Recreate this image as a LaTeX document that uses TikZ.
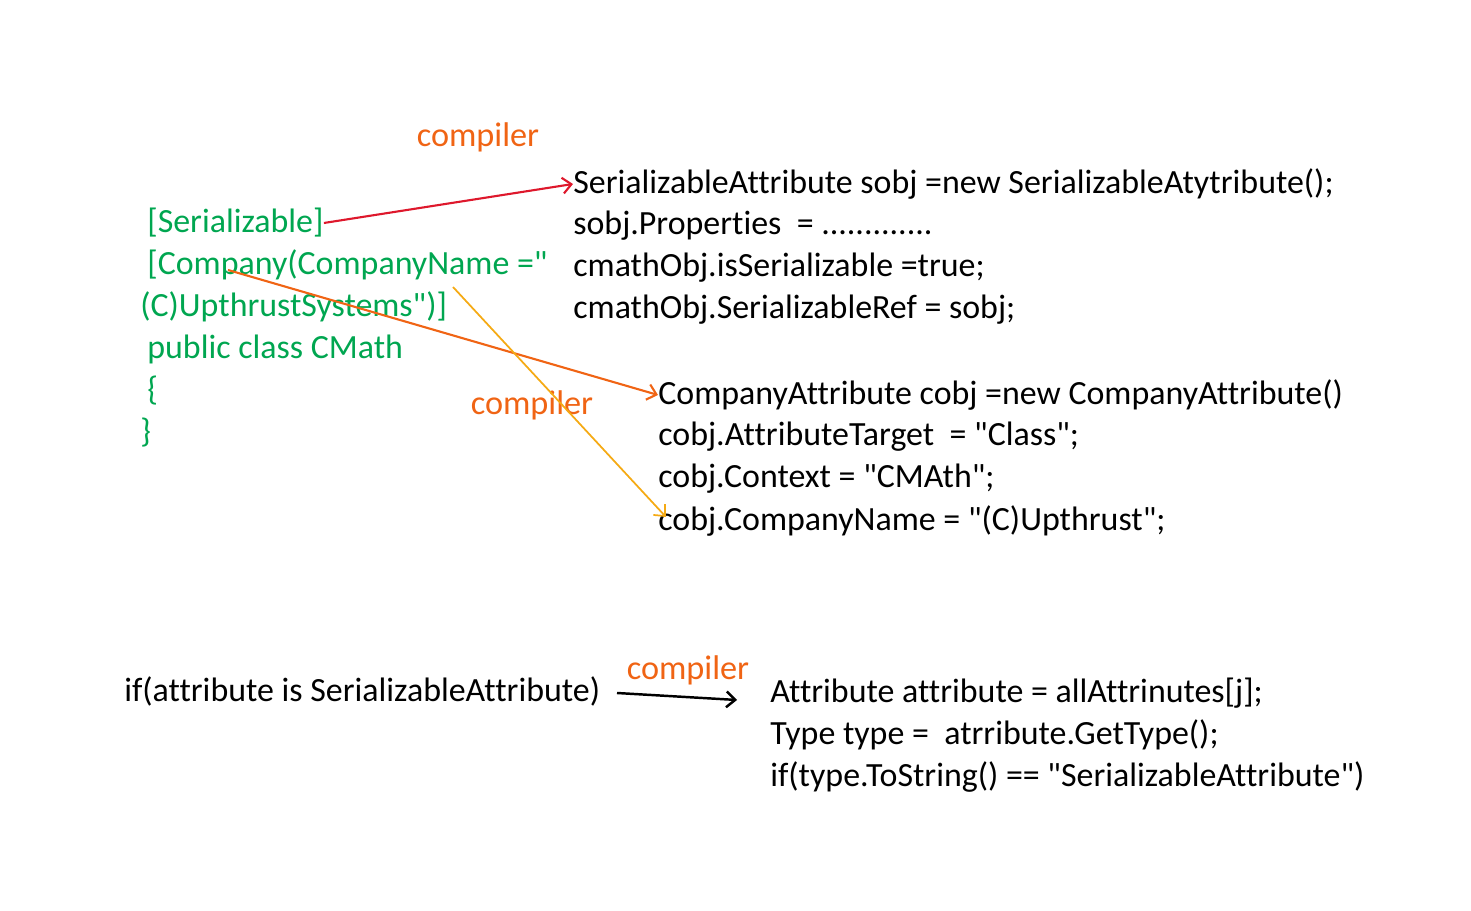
\documentclass[tikz,border=0pt]{standalone}
\usepackage{fontspec}
\setmainfont{Carlito}[Ligatures={TeXOff,NoCommon}]
\usetikzlibrary{positioning,arrows.meta}

\definecolor{codegreen}{RGB}{0,166,80}
\definecolor{compOrange}{RGB}{240,100,20}
\definecolor{serRed}{RGB}{222,24,44}
\definecolor{nameYellow}{RGB}{245,170,20}

\tikzset{
  >={Straight Barb[length=5pt,width=9pt]},
  code/.style={anchor=west, inner sep=0pt, font=\fontsize{19.3}{23}\selectfont},
  attr/.style={code, text=codegreen},
  lbl/.style={inner sep=0pt, text=compOrange, font=\fontsize{19.5}{23}\selectfont}
}

\begin{document}
\begin{tikzpicture}[x=0.02cm,y=-0.02cm]
\useasboundingbox (0,0) rectangle (1471,911);

% attributed class
\node[attr] (ser) at (147,223) {[Serializable]};
\node[attr] (comp) at (147,265) {[Company(CompanyName ="};
\node[attr] (ups) at (140,307) {(C)UpthrustSystems")]};
\node[attr] (cls) at (147,349) {public class CMath};
\node[attr] (open) at (147,391) {\{};
\node[attr] (close) at (140,433) {\}};

% what the compiler makes of it
\node[code] (s1) at (573,184) {SerializableAttribute sobj =new SerializableAtytribute();};
\node[code] (s2) at (573,226) {sobj.Properties \ = .............};
\node[code] (s3) at (573,268) {cmathObj.isSerializable =true;};
\node[code] (s4) at (573,310) {cmathObj.SerializableRef = sobj;};

\node[code] (c1) at (658,395) {CompanyAttribute cobj =new CompanyAttribute()};
\node[code] (c2) at (658,437) {cobj.AttributeTarget \ = "Class";};
\node[code] (c3) at (658,479) {cobj.Context = "CMAth";};
\node[code] (c4) at (658,521) {cobj.CompanyName = "(C)Upthrust";};

\node[lbl] (comp1) at (478,137) {compiler};
\node[lbl] (comp2) at (532,405) {compiler};

\coordinate (compmid) at (228,270);
\coordinate (namequote) at (453,287);

\draw[serRed,line width=1.2pt,->] (ser.east) -- (s1.west);
\draw[compOrange,line width=1.2pt,->] (compmid) -- (c1.west);
\draw[nameYellow,line width=1pt,->] (namequote) -- ([shift={(8,-4)}]c4.west);

% type check
\node[code] (cond) at (124,691) {if(attribute is SerializableAttribute)};
\node[lbl] (comp3) at (688,670) {compiler};
\node[code] (b1) at (770,693) {Attribute attribute = allAttrinutes[j];};
\node[code] (b2) at (770,735) {Type type = \ atrribute.GetType();};
\node[code] (b3) at (770,777) {if(type.ToString() == "SerializableAttribute")};

\coordinate (bstart) at (617,693);
\coordinate (bend) at (737,700);
\draw[black,line width=1.4pt,->] (bstart) -- (bend);
\end{tikzpicture}
\end{document}
